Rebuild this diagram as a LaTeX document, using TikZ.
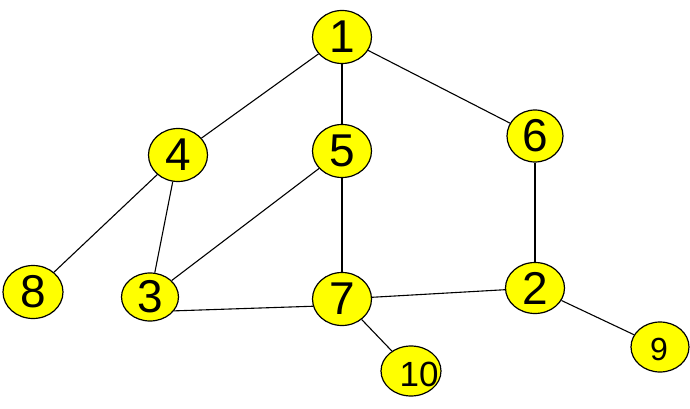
\documentclass[tikz,border=0pt]{standalone}
\usepackage{fontspec}
\setmainfont{Liberation Sans}
\usetikzlibrary{shapes.geometric}
\definecolor{nodeyellow}{RGB}{255,255,0}
\newcommand{\lowlbl}[1]{\raisebox{-3pt}{#1}}
\tikzset{
  vbig/.style={ellipse, draw=black, line width=1.2pt, fill=nodeyellow, inner sep=0pt,
    minimum width=59pt, minimum height=53pt, font=\fontsize{46}{46}\selectfont},
  vsmall/.style={ellipse, draw=black, line width=1.2pt, fill=nodeyellow, inner sep=0pt},
  lbl/.style={inner sep=0pt},
  edge/.style={draw=black, line width=1.1pt}
}
\begin{document}
\begin{tikzpicture}[x=1pt,y=-1pt]
\useasboundingbox (0,0) rectangle (690,409);
\node[vbig] (n1) at (342,37) {\lowlbl{1}};
\node[vbig] (n4) at (178,155) {\lowlbl{4}};
\node[vbig] (n5) at (342,151) {\lowlbl{5}};
\node[vbig, minimum width=56pt, minimum height=52pt] (n6) at (535,136) {\lowlbl{6}};
\node[vbig, minimum width=60pt] (n8) at (33,292) {\lowlbl{8}};
\node[vbig, minimum width=57pt, minimum height=48pt] (n3) at (150,297) {\lowlbl{3}};
\node[vbig] (n7) at (342,299) {\lowlbl{7}};
\node[vbig, minimum height=51pt] (n2) at (535,288) {\lowlbl{2}};
\node[vsmall, minimum width=60pt, minimum height=50pt] (n10) at (411,371) {};
\node[vsmall, minimum width=58pt, minimum height=50pt] (n9) at (660,347) {};
\node[lbl, font=\fontsize{35}{35}\selectfont] (t10) at (419,374) {10};
\node[lbl, font=\fontsize{32}{32}\selectfont] (t9) at (659,349) {9};
\draw[edge] (n1) -- (n4);
\draw[edge] (n1) -- (n5);
\draw[edge] (n1) -- (n6);
\draw[edge] (n4) -- (n8);
\draw[edge] (n4) -- (n3);
\draw[edge] (n5) -- (n3);
\draw[edge] (n5) -- (n7);
\draw[edge] (n6) -- (n2);
\draw[edge] (n3.-30) -- (n7.194);
\draw[edge] (n7) -- (n2);
\draw[edge] (n7) -- (n10);
\draw[edge] (n2) -- (n9);
\end{tikzpicture}
\end{document}
